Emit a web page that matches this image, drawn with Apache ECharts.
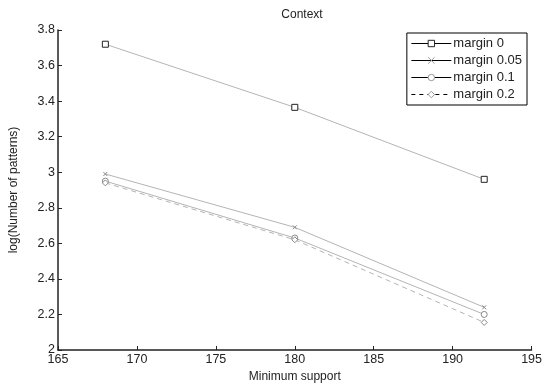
<!DOCTYPE html>
<html>
<head>
<meta charset="utf-8">
<script src="https://cdn.jsdelivr.net/npm/echarts@6/dist/echarts.min.js"></script>
<style>
  html, body { margin: 0; padding: 0; background: #fff; }
  #chart { width: 545px; height: 388px; }
</style>
</head>
<body>
<div id="chart"></div>
<script>
// data
var support = [168, 180, 192];
var margin0 = [3.72, 3.365, 2.96];
var margin005 = [2.99, 2.69, 2.24];
var margin01 = [2.95, 2.63, 2.20];
var margin02 = [2.94, 2.62, 2.155];
var seriesNames = ['margin 0', 'margin 0.05', 'margin 0.1', 'margin 0.2'];

var chart = echarts.init(document.getElementById('chart'));

function pairs(vals) {
  var out = [];
  for (var i = 0; i < support.length; i++) {
    out.push([support[i], vals[i]]);
  }
  return out;
}

var font = 'Liberation Sans, Arial, sans-serif';
var lineGray = '#b4b4b4';

function makeSeries(name, vals, symbol, size, dashed, markColor) {
  return {
    name: name,
    type: 'line',
    data: pairs(vals),
    symbol: symbol,
    symbolSize: size,
    showAllSymbol: true,
    lineStyle: { color: lineGray, width: 1, type: dashed ? [5, 4] : 'solid' },
    itemStyle: { color: '#fff', borderColor: markColor, borderWidth: 1 },
    emphasis: { disabled: true },
    animation: false
  };
}

var option = {
  animation: false,
  title: {
    text: 'Context',
    left: 297,
    top: 4,
    textAlign: 'center',
    textStyle: { fontFamily: font, fontSize: 12, fontWeight: 'normal', color: '#222' }
  },
  legend: {
    orient: 'vertical',
    right: 18,
    top: 33,
    padding: [4, 5, 4, 4],
    itemGap: 4,
    itemWidth: 40,
    itemHeight: 8,
    borderColor: '#000',
    borderWidth: 1,
    backgroundColor: '#fff',
    textStyle: { fontFamily: font, fontSize: 13, color: '#222', padding: [0, 0, 0, -3] },
    data: seriesNames.map(function (n, i) {
      return {
        name: n,
        itemStyle: { color: '#fff', borderColor: i === 0 ? '#222' : '#999', borderWidth: 1 },
        lineStyle: { color: '#000', width: 1, type: i === 3 ? [4, 4] : 'solid' }
      };
    })
  },
  grid: { left: 56, right: 12, top: 30, bottom: 35 },
  xAxis: {
    type: 'value',
    min: 165,
    max: 195,
    interval: 5,
    name: 'Minimum support',
    nameLocation: 'middle',
    nameGap: 21,
    nameTextStyle: { fontFamily: font, fontSize: 12, color: '#222' },
    axisLine: { lineStyle: { color: '#222', width: 1.5 } },
    axisTick: { inside: true, length: 4, lineStyle: { color: '#222' } },
    axisLabel: { fontFamily: font, fontSize: 12.5, color: '#222', margin: 3 },
    splitLine: { show: false }
  },
  yAxis: {
    type: 'value',
    min: 2,
    max: 3.8,
    interval: 0.2,
    name: 'log(Number of patterns)',
    nameLocation: 'middle',
    nameGap: 38,
    nameTextStyle: { fontFamily: font, fontSize: 12, color: '#222' },
    axisLine: { show: true, lineStyle: { color: '#222', width: 1.5 } },
    axisTick: { show: true, inside: true, length: 4, lineStyle: { color: '#222' } },
    axisLabel: { fontFamily: font, fontSize: 12.5, color: '#222', margin: 3 },
    splitLine: { show: false }
  },
  series: [
    makeSeries(seriesNames[0], margin0, 'rect', 6, false, '#222'),
    makeSeries(seriesNames[1], margin005, 'path://M0,0L10,10M10,0L0,10', 4, false, '#888'),
    makeSeries(seriesNames[2], margin01, 'circle', 6, false, '#888'),
    makeSeries(seriesNames[3], margin02, 'diamond', 6, true, '#888')
  ]
};

chart.setOption(option);
</script>
</body>
</html>
